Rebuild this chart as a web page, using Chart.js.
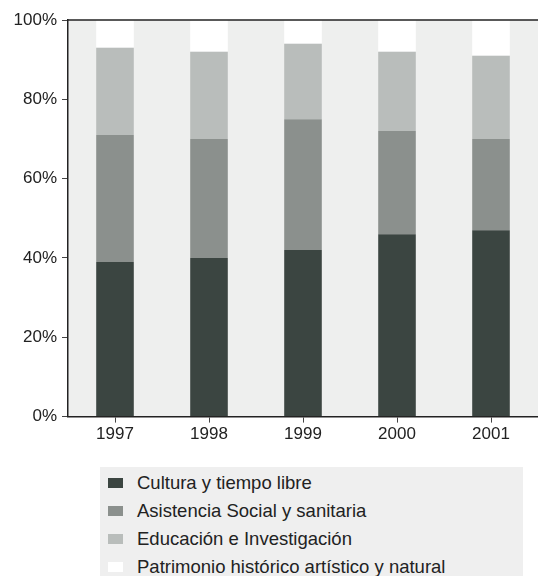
<!DOCTYPE html>
<html>
<head>
<meta charset="utf-8">
<script src="https://cdn.jsdelivr.net/npm/chart.js@4"></script>
<style>
  body { margin: 0; background: #fff; font-family: Arial, "Liberation Sans", sans-serif; }
  #wrap { position: relative; width: 538px; height: 447px; }
  #legend { margin: 20px 0 0 100px; width: 423px; background: #efefef; padding: 2px 0 0 8px; box-sizing: border-box; height: 109px; }
  .item { display: flex; align-items: center; height: 28px; font-size: 18.5px; color: #222; }
  .box { width: 15px; height: 10px; margin-right: 14px; }
</style>
</head>
<body>
<div id="wrap"><canvas id="chart"></canvas></div>
<div id="legend"></div>
<script>
const years = ['1997', '1998', '1999', '2000', '2001'];
const cultura = [39, 40, 42, 46, 47];
const asistencia = [32, 30, 33, 26, 23];
const educacion = [22, 22, 19, 20, 21];
const patrimonio = [7, 8, 6, 8, 9];
const seriesNames = ['Cultura y tiempo libre', 'Asistencia Social y sanitaria', 'Educación e Investigación', 'Patrimonio histórico artístico  y natural'];
const seriesColors = ['#3b4541', '#8b908d', '#b9bdbb', '#ffffff'];

const plotBg = {
  id: 'plotBg',
  beforeDraw(chart) {
    const { ctx, chartArea: a } = chart;
    ctx.save();
    ctx.fillStyle = '#eeefee';
    ctx.fillRect(a.left, a.top, a.right - a.left, a.bottom - a.top);
    ctx.restore();
  },
  afterDraw(chart) {
    const { ctx, chartArea: a } = chart;
    ctx.save();
    ctx.strokeStyle = '#222';
    ctx.lineWidth = 1.5;
    ctx.beginPath();
    ctx.moveTo(a.left, a.top);
    ctx.lineTo(a.right, a.top);
    ctx.stroke();
    ctx.restore();
  }
};

const data = [cultura, asistencia, educacion, patrimonio];
new Chart(document.getElementById('chart'), {
  type: 'bar',
  data: {
    labels: years,
    datasets: data.map((d, i) => ({
      label: seriesNames[i],
      data: d,
      backgroundColor: seriesColors[i],
      borderWidth: 0,
      categoryPercentage: 0.8,
      barPercentage: 0.5
    }))
  },
  options: {
    responsive: true,
    maintainAspectRatio: false,
    animation: false,
    layout: { padding: { top: 20, right: 0, bottom: 0, left: 0 } },
    plugins: { legend: { display: false }, tooltip: { enabled: false } },
    scales: {
      x: {
        stacked: true,
        grid: { display: true, drawOnChartArea: false, offset: false, tickLength: 6, color: '#444' },
        border: { color: '#222', width: 1.5 },
        ticks: { color: '#222', font: { size: 17, family: 'Arial' }, padding: 2 }
      },
      y: {
        stacked: true,
        min: 0,
        max: 100,
        afterFit(s) { s.width = 68; },
        grid: { display: true, drawOnChartArea: false, tickLength: 6, color: '#444' },
        border: { color: '#222', width: 1.5 },
        ticks: {
          stepSize: 20,
          color: '#222',
          font: { size: 17, family: 'Arial' },
          padding: 5,
          callback: v => v + '%'
        }
      }
    }
  },
  plugins: [plotBg]
});

const legend = document.getElementById('legend');
seriesNames.forEach((n, i) => {
  const it = document.createElement('div');
  it.className = 'item';
  it.innerHTML = '<span class="box" style="background:' + seriesColors[i] + '"></span>' + n;
  legend.appendChild(it);
});
</script>
</body>
</html>
